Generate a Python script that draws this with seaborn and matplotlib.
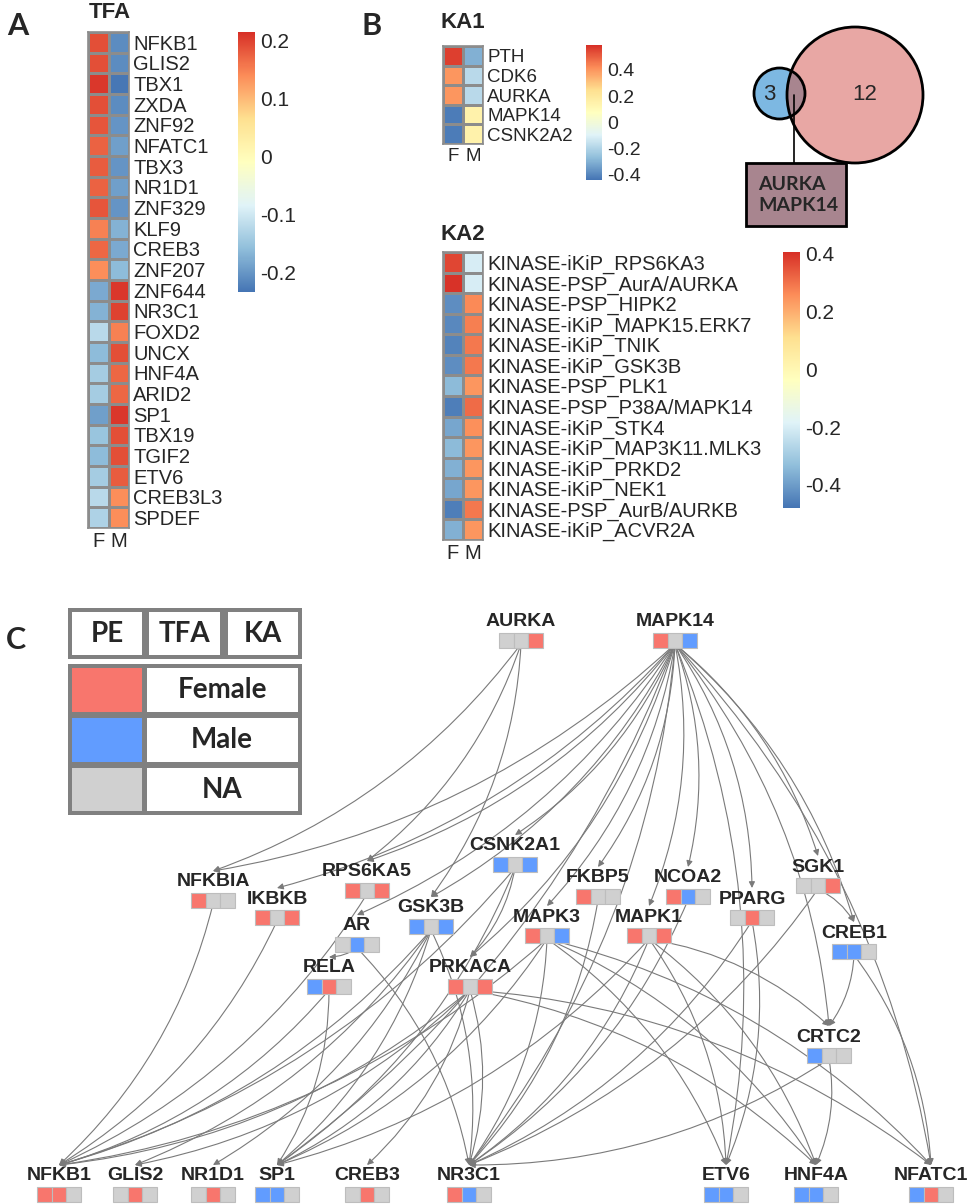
import numpy as np
import pandas as pd
import matplotlib
matplotlib.use("Agg")
import matplotlib.pyplot as plt
from matplotlib.colors import LinearSegmentedColormap
from matplotlib.patches import Rectangle, Circle, FancyArrowPatch
import seaborn as sns

sns.set_style("white")
plt.rcParams["font.family"] = ["Liberation Sans", "DejaVu Sans"]

# ---- data ----
tfa_genes = ["NFKB1", "GLIS2", "TBX1", "ZXDA", "ZNF92", "NFATC1", "TBX3", "NR1D1",
             "ZNF329", "KLF9", "CREB3", "ZNF207", "ZNF644", "NR3C1", "FOXD2", "UNCX",
             "HNF4A", "ARID2", "SP1", "TBX19", "TGIF2", "ETV6", "CREB3L3", "SPDEF"]
tfa_f = [0.19, 0.19, 0.21, 0.19, 0.185, 0.175, 0.18, 0.175, 0.185, 0.15, 0.17, 0.14,
         -0.18, -0.17, -0.12, -0.16, -0.14, -0.14, -0.19, -0.15, -0.16, -0.14, -0.12, -0.13]
tfa_m = [-0.21, -0.21, -0.23, -0.21, -0.20, -0.19, -0.20, -0.19, -0.20, -0.17, -0.18, -0.16,
         0.21, 0.20, 0.15, 0.19, 0.17, 0.17, 0.21, 0.19, 0.19, 0.18, 0.14, 0.14]

ka1_genes = ["PTH", "CDK6", "AURKA", "MAPK14", "CSNK2A2"]
ka1_f = [0.56, 0.40, 0.40, -0.42, -0.42]
ka1_m = [-0.30, -0.18, -0.18, 0.15, 0.15]

ka2_genes = ["KINASE-iKiP_RPS6KA3", "KINASE-PSP_AurA/AURKA", "KINASE-PSP_HIPK2",
             "KINASE-iKiP_MAPK15.ERK7", "KINASE-iKiP_TNIK", "KINASE-iKiP_GSK3B",
             "KINASE-PSP_PLK1", "KINASE-PSP_P38A/MAPK14", "KINASE-iKiP_STK4",
             "KINASE-iKiP_MAP3K11.MLK3", "KINASE-iKiP_PRKD2", "KINASE-iKiP_NEK1",
             "KINASE-PSP_AurB/AURKB", "KINASE-iKiP_ACVR2A"]
ka2_f = [0.37, 0.40, -0.43, -0.44, -0.45, -0.43, -0.34, -0.46, -0.38, -0.34, -0.36, -0.38, -0.46, -0.36]
ka2_m = [-0.20, -0.20, 0.26, 0.28, 0.29, 0.29, 0.24, 0.31, 0.25, 0.24, 0.24, 0.24, 0.29, 0.24]

venn_only_left = 3
venn_only_right = 12
venn_shared = ["AURKA", "MAPK14"]

legend_header = ["PE", "TFA", "KA"]
legend_labels = ["Female", "Male", "NA"]

# network nodes: state per layer (PE, TFA, KA)
node_names = ["AURKA", "MAPK14", "NFKBIA", "IKBKB", "RPS6KA5", "CSNK2A1", "FKBP5", "NCOA2",
              "PPARG", "SGK1", "AR", "GSK3B", "MAPK3", "MAPK1", "CREB1", "RELA", "PRKACA",
              "CRTC2", "NFKB1", "GLIS2", "NR1D1", "SP1", "CREB3", "NR3C1", "ETV6", "HNF4A", "NFATC1"]
node_pe = ["NA", "F", "F", "F", "F", "M", "F", "F", "NA", "NA", "NA", "M", "F", "F", "M", "M", "F",
           "M", "F", "NA", "NA", "M", "NA", "F", "M", "M", "M"]
node_tfa = ["NA", "NA", "NA", "NA", "NA", "NA", "NA", "M", "F", "NA", "M", "NA", "NA", "NA", "M", "F", "NA",
            "NA", "F", "F", "F", "M", "F", "M", "M", "M", "F"]
node_ka = ["F", "M", "NA", "F", "F", "M", "NA", "NA", "NA", "F", "NA", "M", "M", "F", "NA", "NA", "F",
           "NA", "NA", "NA", "NA", "NA", "NA", "NA", "NA", "NA", "NA"]

edges = [
    ("MAPK14", "NFKBIA"), ("MAPK14", "IKBKB"), ("MAPK14", "RPS6KA5"), ("MAPK14", "AR"),
    ("MAPK14", "GSK3B"), ("MAPK14", "CSNK2A1"), ("MAPK14", "PRKACA"), ("MAPK14", "FKBP5"),
    ("MAPK14", "MAPK3"), ("MAPK14", "MAPK1"), ("MAPK14", "NCOA2"), ("MAPK14", "PPARG"),
    ("MAPK14", "SGK1"), ("MAPK14", "CREB1"), ("MAPK14", "NFATC1"), ("MAPK14", "CRTC2"),
    ("MAPK14", "NR3C1"), ("MAPK14", "SP1"), ("MAPK14", "ETV6"),
    ("AURKA", "NFKBIA"), ("AURKA", "RPS6KA5"), ("AURKA", "GSK3B"),
    ("NFKBIA", "NFKB1"), ("IKBKB", "NFKB1"), ("RPS6KA5", "NFKB1"), ("AR", "RELA"),
    ("AR", "NR3C1"), ("RELA", "SP1"), ("RELA", "NFKB1"),
    ("GSK3B", "NFKB1"), ("GSK3B", "GLIS2"), ("GSK3B", "NR1D1"), ("GSK3B", "SP1"), ("GSK3B", "NR3C1"),
    ("CSNK2A1", "PRKACA"), ("CSNK2A1", "NFKB1"), ("CSNK2A1", "SP1"),
    ("PRKACA", "NFKB1"), ("PRKACA", "GLIS2"), ("PRKACA", "SP1"), ("PRKACA", "CREB3"),
    ("PRKACA", "NR3C1"), ("PRKACA", "HNF4A"), ("PRKACA", "NFATC1"),
    ("MAPK3", "NR3C1"), ("MAPK3", "SP1"), ("MAPK3", "ETV6"), ("MAPK3", "HNF4A"),
    ("MAPK3", "NFATC1"), ("MAPK3", "NFKB1"),
    ("MAPK1", "NR3C1"), ("MAPK1", "SP1"), ("MAPK1", "ETV6"), ("MAPK1", "HNF4A"), ("MAPK1", "CRTC2"),
    ("FKBP5", "NR3C1"), ("NCOA2", "NR3C1"), ("PPARG", "ETV6"), ("PPARG", "NR3C1"),
    ("SGK1", "NR3C1"), ("SGK1", "CREB1"),
    ("CREB1", "CRTC2"), ("CREB1", "NFATC1"), ("CRTC2", "NR3C1"), ("CRTC2", "HNF4A"),
]

# ---- layout (pixels) ----
W, H = 975, 1204
pos = {
    "AURKA": (521, 640), "MAPK14": (675, 640),
    "NFKBIA": (213, 900), "IKBKB": (277, 917), "RPS6KA5": (367, 890), "CSNK2A1": (515, 864),
    "FKBP5": (598, 896), "NCOA2": (688, 896), "PPARG": (752, 917), "SGK1": (818, 885),
    "AR": (357, 944), "GSK3B": (431, 926), "MAPK3": (547, 935), "MAPK1": (649, 935),
    "CREB1": (854, 951), "RELA": (329, 986), "PRKACA": (470, 986), "CRTC2": (829, 1055),
    "NFKB1": (59, 1194), "GLIS2": (135, 1194), "NR1D1": (213, 1194), "SP1": (277, 1194),
    "CREB3": (367, 1194), "NR3C1": (469, 1194), "ETV6": (726, 1194), "HNF4A": (816, 1194),
    "NFATC1": (931, 1194),
}
state_color = {"F": "#F8766D", "M": "#619CFF", "NA": "#D0D0D0"}
heat_cmap = LinearSegmentedColormap.from_list(
    "pheat", ["#4575B4", "#91BFDB", "#E0F3F8", "#FFFFBF", "#FEE090", "#FC8D59", "#D73027"])

fig = plt.figure(figsize=(W / 100, H / 100), dpi=100)


def px_axes(x0, y0, x1, y1):
    return fig.add_axes([x0 / W, 1 - y1 / H, (x1 - x0) / W, (y1 - y0) / H])


# overlay for drawing in pixel coordinates
ov = px_axes(0, 0, W, H)
ov.set_xlim(0, W)
ov.set_ylim(H, 0)
ov.axis("off")
ov.patch.set_alpha(0)


def draw_heat(box, cbox, genes, f, m, vmin, vmax, ticks, fs):
    ax = px_axes(*box)
    cax = px_axes(*cbox)
    df = pd.DataFrame({"F": f, "M": m}, index=genes)
    sns.heatmap(df, ax=ax, cmap=heat_cmap, vmin=vmin, vmax=vmax, linewidths=1.0,
                linecolor="#8c8c8c", cbar_ax=cax, xticklabels=True, yticklabels=True)
    ax.yaxis.tick_right()
    ax.set_yticks(np.arange(len(genes)) + 0.5)
    ax.set_yticklabels(genes, rotation=0, fontsize=fs)
    ax.set_xticks([0.5, 1.5])
    ax.set_xticklabels(["F", "M"], rotation=0, fontsize=fs)
    ax.tick_params(length=0, pad=3)
    for sp in ax.spines.values():
        sp.set_visible(True)
        sp.set_color("#8c8c8c")
        sp.set_linewidth(1.2)
    cb = ax.collections[0].colorbar
    cb.set_ticks(ticks)
    cb.set_ticklabels([("%g" % t) for t in ticks])
    cb.outline.set_visible(False)
    cax.tick_params(length=0, labelsize=fs + 0.5, pad=4)
    return ax


# Panel A
draw_heat((88, 32, 129, 528), (238, 32, 255, 292), tfa_genes, tfa_f, tfa_m,
          -0.233, 0.2155, [0.2, 0.1, 0, -0.1, -0.2], 14.5)
ov.text(110, 13, "TFA", ha="center", va="center", fontsize=16, fontweight="bold")

# Panel B
draw_heat((443, 46, 483, 144), (586, 45, 602, 180), ka1_genes, ka1_f, ka1_m,
          -0.44, 0.59, [0.4, 0.2, 0, -0.2, -0.4], 13.5)
ov.text(440, 22, "KA1", ha="left", va="center", fontsize=16, fontweight="bold")
draw_heat((443, 252, 483, 540), (783, 252, 800, 508), ka2_genes, ka2_f, ka2_m,
          -0.48, 0.405, [0.4, 0.2, 0, -0.2, -0.4], 14.5)
ov.text(440, 234, "KA2", ha="left", va="center", fontsize=16, fontweight="bold")

for letter, (lx, ly) in {"A": (18, 26), "B": (372, 26), "C": (16, 640)}.items():
    ov.text(lx, ly, letter, ha="center", va="center", fontsize=22, fontweight="bold",
            family="Lato")

# Venn diagram
big = Circle((855, 95), 68, facecolor="#E8A7A4", edgecolor="none", zorder=2)
small = Circle((779.5, 93.5), 25.5, facecolor="#7DB8E2", edgecolor="none", zorder=2)
ov.add_patch(big)
ov.add_patch(small)
inter = Circle((779.5, 93.5), 25.5, facecolor="#A8858F", edgecolor="none", zorder=3)
ov.add_patch(inter)
inter.set_clip_path(big)
ov.add_patch(Circle((855, 95), 68, fill=False, edgecolor="black", lw=2, zorder=4))
ov.add_patch(Circle((779.5, 93.5), 25.5, fill=False, edgecolor="black", lw=2, zorder=4))
ov.text(769, 95, str(venn_only_left), ha="center", va="center", fontsize=16, zorder=5)
ov.text(865, 95, str(venn_only_right), ha="center", va="center", fontsize=16, zorder=5)
ov.plot([794, 794], [95, 163], color="black", lw=1.2, zorder=5)
ov.add_patch(Rectangle((746, 163), 100, 63, facecolor="#A8858F", edgecolor="black", lw=2, zorder=5))
ov.text(758, 195, "\n".join(venn_shared), ha="left", va="center", fontsize=14,
        fontweight="bold", linespacing=1.3, family="Lato", zorder=6)

# Panel C legend table
border = "#808080"
ov.add_patch(Rectangle((68, 608), 234, 51, facecolor=border, edgecolor="none"))
for i, (x0, x1) in enumerate([(72, 142), (149, 220), (228, 298)]):
    ov.add_patch(Rectangle((x0, 612), x1 - x0, 43, facecolor="white", edgecolor="none"))
    ov.text((x0 + x1) / 2, 634, legend_header[i], ha="center", va="center",
            fontsize=20, fontweight="bold", family="Lato")
ov.add_patch(Rectangle((68, 664), 234, 151, facecolor=border, edgecolor="none"))
for i, (y0, y1) in enumerate([(668, 712), (718, 762), (768, 811)]):
    key = ["F", "M", "NA"][i]
    ov.add_patch(Rectangle((72, y0), 70, y1 - y0, facecolor=state_color[key], edgecolor="none"))
    ov.add_patch(Rectangle((147, y0), 151, y1 - y0, facecolor="white", edgecolor="none"))
    ov.text(222, (y0 + y1) / 2, legend_labels[i], ha="center", va="center",
            fontsize=20, fontweight="bold", family="Lato")

# network edges (all bent the same way, like the cytoscape layout)
for src, dst in edges:
    xs, ys = pos[src]
    xt, yt = pos[dst]
    arr = FancyArrowPatch((xs, ys + 4), (xt, yt - 29), arrowstyle="-|>", mutation_scale=9,
                          connectionstyle="arc3,rad=-0.15", color="#7a7a7a", lw=0.8,
                          shrinkA=0, shrinkB=0, zorder=1)
    ov.add_patch(arr)

# network nodes
sq_w, sq_h = 14.7, 15
for name, pe, tf, ka in zip(node_names, node_pe, node_tfa, node_ka):
    x, y = pos[name]
    for k, st in enumerate([pe, tf, ka]):
        ov.add_patch(Rectangle((x - 1.5 * sq_w + k * sq_w, y - sq_h / 2), sq_w, sq_h,
                               facecolor=state_color[st], edgecolor="#BDBDBD", lw=0.8, zorder=6))
    ov.text(x, y - sq_h / 2 - 2, name, ha="center", va="bottom", fontsize=14,
            fontweight="bold", zorder=7)

fig.savefig("out.png", dpi=100)
